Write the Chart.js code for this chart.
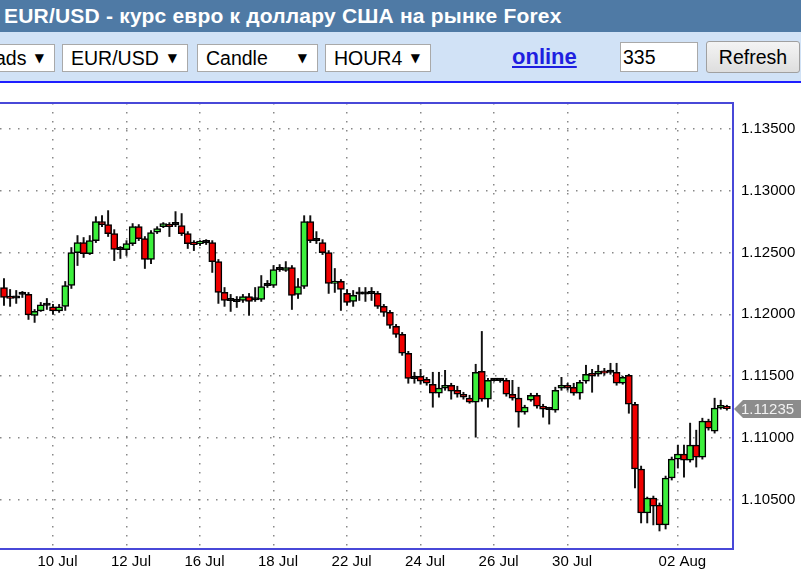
<!DOCTYPE html>
<html>
<head>
<meta charset="utf-8">
<script src="https://cdn.jsdelivr.net/npm/chart.js@4"></script>
<style>
body { margin: 0; width: 801px; height: 569px; overflow: hidden; background: #fff; position: relative;
       font-family: Arial, "Liberation Sans", sans-serif; }
.title { position: absolute; left: 0; top: 0; width: 801px; height: 32px; background: #4f7aa5; color: #fff;
         font-weight: bold; font-size: 21px; letter-spacing: 0.2px; line-height: 32px; padding-left: 4px; box-sizing: border-box; white-space: nowrap; }
.bar { position: absolute; left: 0; top: 32px; width: 801px; height: 49px; background: #d1e2f6; border-bottom: 2px solid #1e1eff; }
.sel { position: absolute; top: 12px; height: 28px; box-sizing: border-box; background: #fff; border: 1px solid #a9a9a9;
       font-size: 19.5px; line-height: 26px; color: #000; white-space: nowrap; }
.sel .t { position: absolute; left: 8px; }
.sel .a { position: absolute; right: 10px; font-size: 12px; font-family: "DejaVu Sans", sans-serif; }
.online { position: absolute; left: 512px; top: 12px; font-size: 22px; font-weight: bold; color: #1f1fe0; text-decoration: underline; }
.inp { position: absolute; left: 620px; top: 10px; width: 78px; height: 30px; box-sizing: border-box; background: #fff;
       border: 1px solid #a9a9a9; font-size: 19.5px; line-height: 28px; padding-left: 2px; }
.btn { position: absolute; left: 706px; top: 9px; width: 94px; height: 32px; box-sizing: border-box;
       background: linear-gradient(#f4f4f4, #dedede); border: 1px solid #a0a0a0; border-radius: 3px;
       font-size: 19.5px; line-height: 30px; text-align: center; }
#wrap { position: absolute; left: 0; top: 84px; width: 801px; height: 485px; }
</style>
</head>
<body>
<div class="title">EUR/USD - курс евро к доллару США на рынке Forex</div>
<div class="bar">
  <div class="sel" style="left:-20px;width:75px"><span class="t" style="left:14px">ads</span><span class="a">▼</span></div>
  <div class="sel" style="left:62px;width:126px"><span class="t">EUR/USD</span><span class="a">▼</span></div>
  <div class="sel" style="left:197px;width:121px"><span class="t">Candle</span><span class="a">▼</span></div>
  <div class="sel" style="left:325px;width:106px"><span class="t">HOUR4</span><span class="a">▼</span></div>
  <span class="online">online</span>
  <div class="inp">335</div>
  <div class="btn">Refresh</div>
</div>
<div id="wrap"><canvas id="forexChart"></canvas></div>
<script>
// EUR/USD, HOUR4 candles

const dateTicks  = [8, 20, 32, 44, 56, 68, 80, 92, 110];
const dateLabels = ['10 Jul', '12 Jul', '16 Jul', '18 Jul', '22 Jul', '24 Jul', '26 Jul', '30 Jul', '02 Aug'];
const priceTicks = [1.105, 1.110, 1.115, 1.120, 1.125, 1.130, 1.135];

const opens = [
  1.12217, 1.12136, 1.12132, 1.12162, 1.12161, 1.11991, 1.12027, 1.12072, 1.12060, 1.12027,
  1.12064, 1.12233, 1.12500, 1.12581, 1.12492, 1.12597, 1.12751, 1.12727, 1.12654, 1.12525,
  1.12523, 1.12573, 1.12710, 1.12613, 1.12444, 1.12666, 1.12710, 1.12727, 1.12727, 1.12719,
  1.12654, 1.12581, 1.12573, 1.12581, 1.12581, 1.12427, 1.12177, 1.12112, 1.12104, 1.12112,
  1.12144, 1.12116, 1.12120, 1.12233, 1.12233, 1.12363, 1.12355, 1.12379, 1.12161, 1.12225,
  1.12751, 1.12597, 1.12581, 1.12500, 1.12250, 1.12266, 1.12169, 1.12104, 1.12165, 1.12163,
  1.12169, 1.12169, 1.12064, 1.12015, 1.11902, 1.11837, 1.11684, 1.11481, 1.11498, 1.11473,
  1.11433, 1.11360, 1.11401, 1.11425, 1.11384, 1.11352, 1.11320, 1.11287, 1.11538, 1.11312,
  1.11465, 1.11463, 1.11465, 1.11352, 1.11320, 1.11206, 1.11304, 1.11344, 1.11255, 1.11229,
  1.11223, 1.11401, 1.11425, 1.11409, 1.11360, 1.11457, 1.11522, 1.11514, 1.11538, 1.11530,
  1.11530, 1.11441, 1.11506, 1.11271, 1.10746, 1.10390, 1.10511, 1.10454, 1.10293, 1.10673,
  1.10826, 1.10867, 1.10818, 1.10940, 1.10843, 1.11134, 1.11053, 1.11239, 1.11255
];
const highs = [
  1.12290, 1.12201, 1.12193, 1.12185, 1.12177, 1.12039, 1.12096, 1.12128, 1.12080, 1.12080,
  1.12266, 1.12541, 1.12638, 1.12622, 1.12638, 1.12791, 1.12799, 1.12840, 1.12686, 1.12549,
  1.12597, 1.12735, 1.12727, 1.12630, 1.12678, 1.12710, 1.12743, 1.12743, 1.12832, 1.12816,
  1.12670, 1.12597, 1.12597, 1.12605, 1.12597, 1.12444, 1.12217, 1.12161, 1.12144, 1.12161,
  1.12169, 1.12217, 1.12314, 1.12274, 1.12395, 1.12403, 1.12427, 1.12395, 1.12290, 1.12799,
  1.12799, 1.12670, 1.12605, 1.12516, 1.12371, 1.12282, 1.12201, 1.12193, 1.12217, 1.12217,
  1.12217, 1.12185, 1.12080, 1.12031, 1.11918, 1.11853, 1.11700, 1.11530, 1.11554, 1.11489,
  1.11530, 1.11530, 1.11546, 1.11441, 1.11417, 1.11368, 1.11344, 1.11595, 1.11861, 1.11481,
  1.11473, 1.11481, 1.11481, 1.11465, 1.11409, 1.11263, 1.11360, 1.11360, 1.11271, 1.11247,
  1.11409, 1.11489, 1.11441, 1.11441, 1.11465, 1.11587, 1.11554, 1.11587, 1.11562, 1.11603,
  1.11603, 1.11498, 1.11514, 1.11287, 1.10770, 1.10519, 1.10527, 1.10471, 1.10689, 1.10843,
  1.10940, 1.10940, 1.11118, 1.11061, 1.11158, 1.11150, 1.11320, 1.11304, 1.11263
];
const lows = [
  1.12072, 1.12064, 1.12088, 1.12136, 1.11958, 1.11934, 1.12023, 1.12039, 1.11999, 1.12015,
  1.12031, 1.12209, 1.12395, 1.12460, 1.12484, 1.12581, 1.12710, 1.12630, 1.12435, 1.12452,
  1.12476, 1.12557, 1.12597, 1.12371, 1.12411, 1.12654, 1.12702, 1.12630, 1.12710, 1.12638,
  1.12533, 1.12516, 1.12557, 1.12565, 1.12339, 1.12088, 1.12064, 1.12023, 1.12055, 1.12096,
  1.11991, 1.12104, 1.12104, 1.12217, 1.12217, 1.12347, 1.12347, 1.12039, 1.12128, 1.12209,
  1.12581, 1.12573, 1.12484, 1.12169, 1.12177, 1.12031, 1.12072, 1.12064, 1.12112, 1.12104,
  1.12112, 1.12047, 1.11983, 1.11886, 1.11813, 1.11667, 1.11441, 1.11441, 1.11433, 1.11425,
  1.11247, 1.11328, 1.11384, 1.11312, 1.11328, 1.11312, 1.11279, 1.11004, 1.11295, 1.11247,
  1.11457, 1.11449, 1.11336, 1.11304, 1.11085, 1.11190, 1.11295, 1.11239, 1.11166, 1.11110,
  1.11206, 1.11384, 1.11384, 1.11344, 1.11312, 1.11441, 1.11368, 1.11498, 1.11506, 1.11514,
  1.11425, 1.11433, 1.11198, 1.10592, 1.10309, 1.10309, 1.10293, 1.10244, 1.10260, 1.10657,
  1.10754, 1.10681, 1.10802, 1.10762, 1.10826, 1.11061, 1.11037, 1.11231, 1.11223
];
const closes = [
  1.12136, 1.12128, 1.12130, 1.12160, 1.11995, 1.12023, 1.12076, 1.12074, 1.12027, 1.12060,
  1.12233, 1.12500, 1.12581, 1.12492, 1.12597, 1.12751, 1.12727, 1.12654, 1.12525, 1.12523,
  1.12573, 1.12710, 1.12613, 1.12444, 1.12662, 1.12694, 1.12735, 1.12710, 1.12725, 1.12654,
  1.12573, 1.12565, 1.12581, 1.12579, 1.12427, 1.12177, 1.12112, 1.12110, 1.12102, 1.12144,
  1.12104, 1.12118, 1.12225, 1.12231, 1.12363, 1.12361, 1.12379, 1.12153, 1.12225, 1.12751,
  1.12597, 1.12595, 1.12500, 1.12250, 1.12266, 1.12201, 1.12096, 1.12153, 1.12163, 1.12165,
  1.12167, 1.12064, 1.12015, 1.11910, 1.11837, 1.11684, 1.11481, 1.11479, 1.11457, 1.11441,
  1.11360, 1.11401, 1.11425, 1.11376, 1.11352, 1.11328, 1.11287, 1.11530, 1.11312, 1.11465,
  1.11463, 1.11465, 1.11352, 1.11320, 1.11206, 1.11247, 1.11344, 1.11255, 1.11231, 1.11227,
  1.11384, 1.11425, 1.11401, 1.11360, 1.11449, 1.11514, 1.11498, 1.11538, 1.11522, 1.11528,
  1.11441, 1.11489, 1.11271, 1.10746, 1.10390, 1.10511, 1.10446, 1.10293, 1.10673, 1.10826,
  1.10867, 1.10818, 1.10940, 1.10843, 1.11134, 1.11077, 1.11239, 1.11263, 1.11235
];

const bodyColors = opens.map((o, i) => {
    const d = closes[i] - o;
    if (Math.abs(d) < 0.00003) return '#000';
    return d > 0 ? '#3cf03c' : '#f00000';
});

// plot frame + last price tag
const framePlugin = {
    id: 'framePlugin',
    afterDraw(chart) {
        const ctx = chart.ctx;
        const a = chart.chartArea;
        const y = chart.scales.y;
        ctx.save();
        ctx.strokeStyle = '#4848d8';
        ctx.lineWidth = 2;
        ctx.beginPath();
        ctx.moveTo(a.left - 2, a.top);
        ctx.lineTo(a.right, a.top);
        ctx.lineTo(a.right, a.bottom);
        ctx.lineTo(a.left - 2, a.bottom);
        ctx.stroke();

        const last = closes[closes.length - 1];
        const py = Math.round(y.getPixelForValue(last));
        const x0 = a.right + 1;
        ctx.fillStyle = '#8c8c8c';
        ctx.beginPath();
        ctx.moveTo(x0, py);
        ctx.lineTo(x0 + 9, py - 9);
        ctx.lineTo(chart.width, py - 9);
        ctx.lineTo(chart.width, py + 9);
        ctx.lineTo(x0 + 9, py + 9);
        ctx.closePath();
        ctx.fill();
        ctx.fillStyle = '#f2f2f2';
        ctx.font = '15px Arial, "Liberation Sans"';
        ctx.textBaseline = 'middle';
        ctx.fillText(last.toFixed(5), a.right + 8, py + 1);
        ctx.restore();
    }
};

Chart.defaults.font.family = 'Arial, "Liberation Sans", sans-serif';
Chart.defaults.color = '#000';

new Chart(document.getElementById('forexChart'), {
    type: 'bar',
    data: {
        datasets: [{
            // wicks
            data: lows.map((l, i) => ({x: i, y: [l, highs[i]]})),
            backgroundColor: '#111',
            borderWidth: 0,
            barThickness: 1.3,
            grouped: false,
            order: 2
        }, {
            // bodies
            data: opens.map((o, i) => ({x: i, y: [o, closes[i]]})),
            backgroundColor: bodyColors,
            borderColor: '#000',
            borderWidth: 1.5,
            borderSkipped: false,
            barThickness: 7,
            minBarLength: 2.4,
            grouped: false,
            order: 1
        }]
    },
    options: {
        animation: false,
        responsive: true,
        maintainAspectRatio: false,
        layout: {
            padding: {top: 19, left: 0, right: 0, bottom: 0}
        },
        scales: {
            x: {
                type: 'linear',
                min: -0.65,
                max: 119,
                offset: false,
                grid: {
                    offset: false,
                    color: '#888',
                    lineWidth: 1.5,
                    drawTicks: false
                },
                border: {display: false, dash: [1.5, 7.5]},
                afterBuildTicks: (scale) => {
                    scale.ticks = dateTicks.map(v => ({value: v}));
                },
                afterFit: (scale) => { scale.height = 20; },
                ticks: {
                    autoSkip: false,
                    maxRotation: 0,
                    padding: 4,
                    labelOffset: 4.5,
                    font: {size: 15},
                    callback: (value, index) => dateLabels[index]
                }
            },
            y: {
                position: 'right',
                min: 1.10098,
                max: 1.13712,
                grid: {
                    color: '#888',
                    lineWidth: 1.5,
                    drawTicks: false
                },
                border: {display: false, dash: [1.5, 7.5]},
                afterBuildTicks: (scale) => {
                    scale.ticks = priceTicks.map(v => ({value: v}));
                },
                afterFit: (scale) => { scale.width = 68; },
                ticks: {
                    padding: 8,
                    font: {size: 15},
                    callback: (value) => value.toFixed(5)
                }
            }
        },
        plugins: {
            legend: {display: false},
            tooltip: {enabled: false}
        }
    },
    plugins: [framePlugin]
});
</script>
</body>
</html>
